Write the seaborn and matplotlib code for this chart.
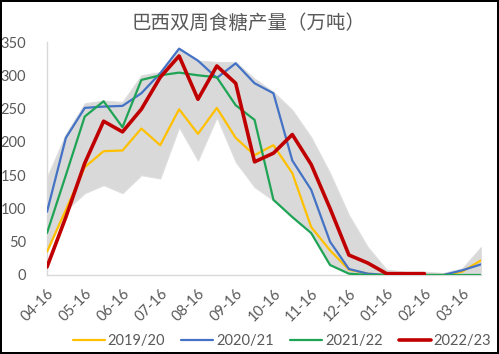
import numpy as np
import pandas as pd
import matplotlib
matplotlib.use("Agg")
import matplotlib.pyplot as plt
import seaborn as sns

# half-month periods, 04-16 .. next 04-01
periods = ["04-16", "05-01", "05-16", "06-01", "06-16", "07-01", "07-16", "08-01",
           "08-16", "09-01", "09-16", "10-01", "10-16", "11-01", "11-16", "12-01",
           "12-16", "01-01", "01-16", "02-01", "02-16", "03-01", "03-16", "04-01"]

s1920 = [35, 98, 162, 186, 187, 220, 195, 249, 212, 251, 206, 180,
         195, 153, 72, 37, 8, 2, 0, 0, 0, 0, 5, 22]
s2021 = [95, 206, 251, 253, 254, 273, 303, 340, 322, 296, 318, 288,
         273, 172, 128, 50, 9, 2, 0, 0, 0, 0, 7, 16]
s2122 = [63, 150, 238, 261, 222, 293, 300, 304, 300, 297, 255, 233,
         113, 87, 63, 15, 2, 0, 0, 0, 0, 0, 0, 0]
s2223 = [12, 87, 168, 231, 215, 249, 297, 329, 264, 314, 288, 170,
         183, 211, 166, 100, 30, 18, 2, 2, 2, np.nan, np.nan, np.nan]

band_lo = [35, 97, 123, 135, 123, 150, 145, 222, 172, 237, 170, 132,
           112, 87, 63, 15, 2, 0, 0, 0, 0, 0, 0, 0]
band_hi = [147, 212, 258, 262, 260, 300, 305, 340, 322, 320, 320, 295,
           275, 248, 207, 153, 90, 42, 8, 5, 5, 3, 10, 42]

series = {"2019/20": s1920, "2020/21": s2021, "2021/22": s2122, "2022/23": s2223}
colors = {"2019/20": "#FFC000", "2020/21": "#4472C4", "2021/22": "#1FA455", "2022/23": "#C00000"}
widths = {"2019/20": 1.6, "2020/21": 1.6, "2021/22": 1.6, "2022/23": 2.6}

sns.set_style("white")
plt.rcParams["font.family"] = ["Lato", "Noto Sans CJK SC", "DejaVu Sans"]

x = np.arange(len(periods))
df = pd.DataFrame([(i, v, k) for k, vals in series.items() for i, v in zip(x, vals)],
                  columns=["idx", "val", "season"])

fig = plt.figure(figsize=(4.99, 3.54), dpi=100)
fig.patch.set_edgecolor("black")
fig.patch.set_linewidth(1.5)
ax = fig.add_axes([47/499, 1-275/354, (481-47)/499, (275-42)/354])

ax.fill_between(x, band_lo, band_hi, color="#d9d9d9", lw=0.8, edgecolor="#dedede", zorder=1)
for name in series:
    sns.lineplot(data=df[df.season == name], x="idx", y="val", ax=ax,
                 color=colors[name], lw=widths[name], label=name, zorder=3)

ax.set_xlim(0, 23)
ax.set_ylim(0, 350)
ax.set_yticks(range(0, 351, 50))
ax.set_xticks(x[::2])
ax.set_xticklabels(periods[::2], rotation=45, ha="right", rotation_mode="anchor")
ax.set_xlabel("")
ax.set_ylabel("")
for sp in ["top", "right"]:
    ax.spines[sp].set_visible(False)
for sp in ["left", "bottom"]:
    ax.spines[sp].set_color("#d9d9d9")
    ax.spines[sp].set_linewidth(1)
ax.tick_params(axis="y", length=0, pad=15, labelsize=10.5, labelcolor="#595959")
ax.tick_params(axis="x", length=4, color="#d9d9d9", pad=4, labelsize=10.5, labelcolor="#595959")

h, l = ax.get_legend_handles_labels()
ax.legend_.remove()
fig.legend(h, l, loc="center", bbox_to_anchor=(0.565, 1-341/354), ncol=4, frameon=False,
           fontsize=10.5, labelcolor="#595959", handlelength=2.2, columnspacing=1.1,
           handletextpad=0.2, borderaxespad=0, borderpad=0)

fig.text(0.497, 1-23/354, "巴西双周食糖产量（万吨）", ha="center", va="center",
         fontsize=14, color="#595959", family=["Noto Sans CJK SC", "DejaVu Sans"])

fig.savefig("out.png", dpi=100, edgecolor=fig.get_edgecolor())
